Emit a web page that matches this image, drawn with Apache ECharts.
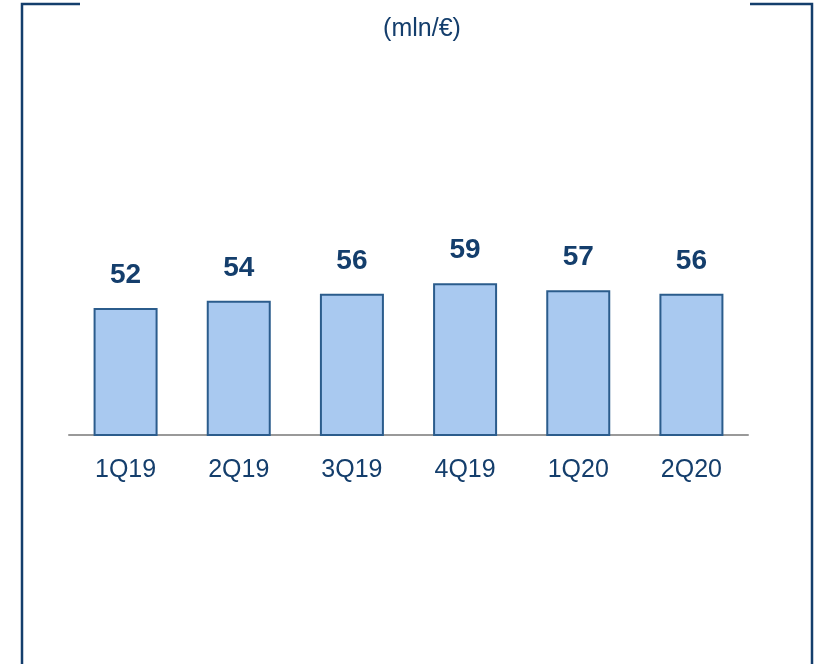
<!DOCTYPE html>
<html>
<head>
<meta charset="utf-8">
<script src="https://cdn.jsdelivr.net/npm/echarts@6/dist/echarts.min.js"></script>
<style>html,body{margin:0;padding:0;background:#fff}#c{width:820px;height:664px}</style>
</head>
<body>
<div id="c"></div>
<script>
var categories = ['1Q19', '2Q19', '3Q19', '4Q19', '1Q20', '2Q20'];
var values = [52, 54, 56, 59, 57, 56];
var subtitle = '(mln/€)';

var chart = echarts.init(document.getElementById('c'));
var navy = '#143e6c';
chart.setOption({
  animation: false,
  backgroundColor: '#ffffff',
  title: {
    text: subtitle,
    left: 417, top: 12, textAlign: 'center',
    textStyle: { fontFamily: 'Liberation Sans', fontSize: 25, fontWeight: 'normal', color: navy }
  },
  grid: { left: 69, right: 72, top: 138.5, bottom: 229 },
  xAxis: {
    type: 'category',
    data: categories,
    axisLine: { lineStyle: { color: '#999999', width: 2 } },
    axisTick: { show: false },
    axisLabel: { fontFamily: 'Liberation Sans', fontSize: 25, color: navy, margin: 23 }
  },
  yAxis: {
    type: 'value', min: 16, max: 100, show: false, splitLine: { show: false }
  },
  series: [{
    type: 'bar',
    data: values,
    barWidth: 64,
    itemStyle: { color: '#a9c9f0', borderColor: '#2b5c8c', borderWidth: 2 },
    label: {
      show: true, position: 'top', distance: 19,
      fontFamily: 'Liberation Sans', fontSize: 28, fontWeight: 'bold', color: navy
    }
  }],
  graphic: [
    { type: 'polyline', shape: { points: [[80, 4], [22, 4], [22, 664]] }, style: { stroke: navy, lineWidth: 2.5, fill: null } },
    { type: 'polyline', shape: { points: [[750, 4], [812, 4], [812, 664]] }, style: { stroke: navy, lineWidth: 2.5, fill: null } }
  ]
});
</script>
</body>
</html>
